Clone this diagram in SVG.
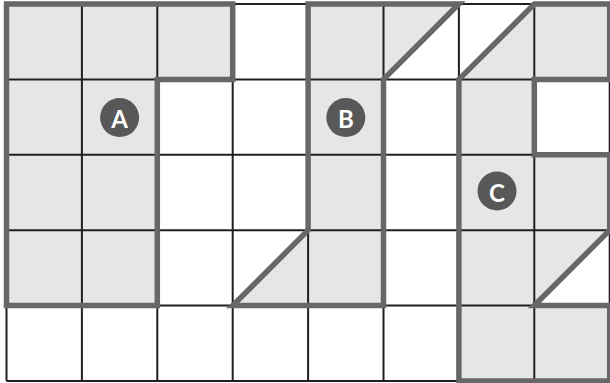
<svg xmlns="http://www.w3.org/2000/svg" width="610" height="383" viewBox="0 0 610 383">
<style>
.fill{fill:#e6e6e6;stroke:none}
.grid line{stroke:#231f20;stroke-width:2}
.outline{fill:none;stroke:#676767;stroke-width:5.5;stroke-linejoin:miter}
.badge circle{fill:#585858}
.badge text{fill:#ffffff;font-family:Lato,"Liberation Sans",sans-serif;font-size:24px;font-weight:bold;text-anchor:middle;dominant-baseline:central}
</style>
<rect x="0" y="0" width="610" height="383" fill="#ffffff"/>
<g id="fills">
<polygon class="fill" points="6.5,4 232.7,4 232.7,79.4 157.3,79.4 157.3,305.6 6.5,305.6"/>
<polygon class="fill" points="308.1,4 458.9,4 383.5,79.4 383.5,305.6 232.7,305.6 308.1,230.2"/>
<polygon class="fill" points="458.9,79.4 534.3,4 609.7,4 609.7,79.4 534.3,79.4 534.3,154.8 609.7,154.8 609.7,230.2 534.3,305.6 609.7,305.6 609.7,381 458.9,381"/>
</g>
<g id="grid" class="grid">
<line x1="6.5" y1="4" x2="609.7" y2="4"/>
<line x1="6.5" y1="79.4" x2="609.7" y2="79.4"/>
<line x1="6.5" y1="154.8" x2="609.7" y2="154.8"/>
<line x1="6.5" y1="230.2" x2="609.7" y2="230.2"/>
<line x1="6.5" y1="305.6" x2="609.7" y2="305.6"/>
<line x1="6.5" y1="381" x2="609.7" y2="381"/>
<line x1="6.5" y1="4" x2="6.5" y2="381"/>
<line x1="81.9" y1="4" x2="81.9" y2="381"/>
<line x1="157.3" y1="4" x2="157.3" y2="381"/>
<line x1="232.7" y1="4" x2="232.7" y2="381"/>
<line x1="308.1" y1="4" x2="308.1" y2="381"/>
<line x1="383.5" y1="4" x2="383.5" y2="381"/>
<line x1="458.9" y1="4" x2="458.9" y2="381"/>
<line x1="534.3" y1="4" x2="534.3" y2="381"/>
<line x1="609.7" y1="4" x2="609.7" y2="381"/>
</g>
<g id="shape-A">
<polygon class="outline" points="6.5,4 232.7,4 232.7,79.4 157.3,79.4 157.3,305.6 6.5,305.6"/>
<g class="badge"><circle cx="119.6" cy="117.6" r="19.5"/><text x="119.6" y="118.5">A</text></g>
</g>
<g id="shape-B">
<polygon class="outline" points="308.1,4 458.9,4 383.5,79.4 383.5,305.6 232.7,305.6 308.1,230.2"/>
<g class="badge"><circle cx="345.8" cy="117.6" r="19.5"/><text x="345.8" y="118.5">B</text></g>
</g>
<g id="shape-C">
<polygon class="outline" points="458.9,79.4 534.3,4 609.7,4 609.7,79.4 534.3,79.4 534.3,154.8 609.7,154.8 609.7,230.2 534.3,305.6 609.7,305.6 609.7,381 458.9,381"/>
<g class="badge"><circle cx="497" cy="191" r="19.5"/><text x="497" y="192">C</text></g>
</g>
</svg>
